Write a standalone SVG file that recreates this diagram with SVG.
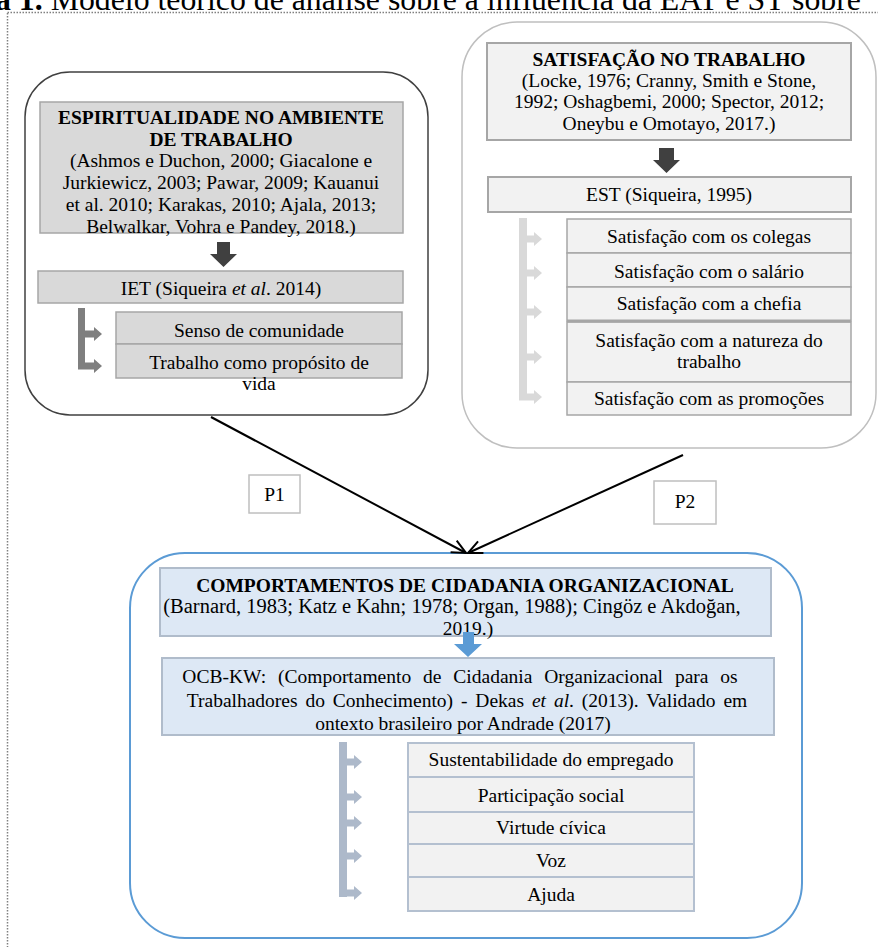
<svg xmlns="http://www.w3.org/2000/svg" width="878" height="947" viewBox="0 0 878 947">
<defs>
<style>
text{font-family:"Liberation Serif","Times New Roman",serif;font-size:19.5px;fill:#000;text-anchor:middle}
.b{font-weight:bold}
.it{font-style:italic}
.gbox{fill:#d9d9d9;stroke:#a6a6a6;stroke-width:1.5}
.lbox{fill:#f2f2f2;stroke:#a6a6a6;stroke-width:1.5}
.bbox{fill:#dde8f5;stroke:#b0bccb;stroke-width:2}
.sbox{fill:#f2f2f2;stroke:#b4c0d0;stroke-width:2}
.conn{stroke:#000;stroke-width:2;fill:none;marker-end:url(#open)}
</style>
<marker id="open" viewBox="0 0 16 16" refX="15" refY="8" markerWidth="16" markerHeight="16" markerUnits="userSpaceOnUse" orient="auto">
<path d="M1,1.5 L15,8 L1,14.5" fill="none" stroke="#000" stroke-width="2"/>
</marker>
</defs>
<rect width="878" height="947" fill="#fff"/>
<text x="-5" y="10" style="font-size:31.8px;text-anchor:start"><tspan class="b">a 1.</tspan> Modelo teórico de análise sobre a influência da EAT e ST sobre</text>
<rect x="7.5" y="12.5" width="900" height="1000" fill="none" stroke="#808080" stroke-width="1.5" stroke-dasharray="1.5 1.5"/>

<g id="espiritualidade">
<rect x="25" y="72" width="403" height="343" rx="45" fill="#fff" stroke="#404040" stroke-width="1.5"/>
<rect class="gbox" x="40" y="102" width="363" height="131"/>
<text x="221" y="124" class="b">ESPIRITUALIDADE NO AMBIENTE</text>
<text x="221" y="146" class="b">DE TRABALHO</text>
<text x="221" y="167">(Ashmos e Duchon, 2000; Giacalone e</text>
<text x="221" y="189">Jurkiewicz, 2003; Pawar, 2009; Kauanui</text>
<text x="221" y="211">et al. 2010; Karakas, 2010; Ajala, 2013;</text>
<text x="221" y="233">Belwalkar, Vohra e Pandey, 2018.)</text>
<path d="M217,242 H230 V254 H237 L223.5,267 L210,254 H217 Z" fill="#404040"/>
<rect class="gbox" x="38" y="271" width="365" height="32"/>
<text x="221" y="295">IET (Siqueira <tspan class="it">et al</tspan>. 2014)</text>
<rect class="gbox" x="116" y="312" width="286" height="32"/>
<text x="259" y="337">Senso de comunidade</text>
<rect class="gbox" x="116" y="344" width="286" height="34"/>
<text x="259" y="369">Trabalho como propósito de</text>
<text x="259" y="390">vida</text>
</g>

<g id="satisfacao">
<rect x="462" y="22" width="414" height="426" rx="55" fill="#fff" stroke="#bfbfbf" stroke-width="1.5"/>
<rect class="lbox" x="487" y="43" width="364" height="97" style="stroke-width:2"/>
<text x="669" y="66" class="b">SATISFAÇÃO NO TRABALHO</text>
<text x="669" y="87">(Locke, 1976; Cranny, Smith e Stone,</text>
<text x="669" y="108">1992; Oshagbemi, 2000; Spector, 2012;</text>
<text x="669" y="130">Oneybu e Omotayo, 2017.)</text>
<path d="M659,148 H674 V160 H680 L666.5,173 L653,160 H659 Z" fill="#404040"/>
<rect class="lbox" x="488" y="177" width="363" height="35" style="stroke-width:2"/>
<text x="669" y="201">EST (Siqueira, 1995)</text>
<rect class="lbox" x="567" y="219" width="284" height="34"/>
<text x="709" y="243">Satisfação com os colegas</text>
<rect class="lbox" x="567" y="253" width="284" height="34"/>
<text x="709" y="278">Satisfação com o salário</text>
<rect class="lbox" x="567" y="287" width="284" height="34"/>
<text x="709" y="310">Satisfação com a chefia</text>
<rect class="lbox" x="567" y="322" width="284" height="60"/>
<line x1="567" y1="321" x2="851" y2="321" stroke="#a6a6a6" stroke-width="3"/>
<text x="709" y="347">Satisfação com a natureza do</text>
<text x="709" y="368">trabalho</text>
<rect class="lbox" x="567" y="382" width="284" height="33"/>
<text x="709" y="405">Satisfação com as promoções</text>
</g>

<g id="p1">
<rect x="249" y="475" width="51" height="38" fill="#fff" stroke="#bfbfbf" stroke-width="1.5"/>
<text x="274.5" y="501">P1</text>
</g>
<g id="p2">
<rect x="654" y="481" width="62" height="43" fill="#fff" stroke="#bfbfbf" stroke-width="1.5"/>
<text x="685" y="508">P2</text>
</g>

<g id="cidadania">
<rect x="130" y="553" width="672" height="385" rx="55" fill="#fff" stroke="#5b9bd5" stroke-width="2"/>
<rect class="bbox" x="160" y="568" width="611" height="68"/>
<text x="465" y="592" class="b">COMPORTAMENTOS DE CIDADANIA ORGANIZACIONAL</text>
<text x="452" y="613" style="font-size:20.5px">(Barnard, 1983; Katz e Kahn; 1978; Organ, 1988); Cingöz e Akdoğan,</text>
<text x="468" y="635">2019.)</text>
<path d="M463,632 H474 V644 H482 L468,657 L454,644 H463 Z" fill="#5b9bd5"/>
<rect class="bbox" x="162" y="658" width="612" height="77"/>
<text x="460" y="683" word-spacing="7">OCB-KW: (Comportamento de Cidadania Organizacional para os</text>
<text x="467" y="707" word-spacing="3">Trabalhadores do Conhecimento) - Dekas <tspan class="it">et al</tspan>. (2013). Validado em</text>
<text x="463" y="730">ontexto brasileiro por Andrade (2017)</text>
<rect class="sbox" x="408" y="743" width="286" height="34"/>
<text x="551" y="766">Sustentabilidade do empregado</text>
<rect class="sbox" x="408" y="777" width="286" height="35"/>
<text x="551" y="802">Participação social</text>
<rect class="sbox" x="408" y="812" width="286" height="32"/>
<text x="551" y="834">Virtude cívica</text>
<rect class="sbox" x="408" y="844" width="286" height="33"/>
<text x="551" y="867">Voz</text>
<rect class="sbox" x="408" y="877" width="286" height="34"/>
<text x="551" y="901">Ajuda</text>
</g>

<g id="connectors">
<line class="conn" x1="211" y1="417" x2="466" y2="553"/>
<line class="conn" x1="683" y1="455" x2="468" y2="553"/>
<g fill="#7f7f7f">
<rect x="78" y="308" width="7" height="61.5"/>
<path d="M85,330.5 H94 V327 L102,334 L94,341 V337.5 H85 Z"/>
<path d="M85,362.5 H94 V359 L102,366 L94,373 V369.5 H85 Z"/>
</g>
<g fill="#d9d9d9">
<rect x="519" y="218" width="8" height="182.5"/>
<path d="M527,235.5 H534 V232 L542,239 L534,246 V242.5 H527 Z"/>
<path d="M527,269.5 H534 V266 L542,273 L534,280 V276.5 H527 Z"/>
<path d="M527,308.5 H534 V305 L542,312 L534,319 V315.5 H527 Z"/>
<path d="M527,353.5 H534 V350 L542,357 L534,364 V360.5 H527 Z"/>
<path d="M527,393.5 H534 V390 L542,397 L534,404 V400.5 H527 Z"/>
</g>
<g fill="#adb9ca">
<rect x="339" y="742" width="8" height="155"/>
<path d="M347,758.5 H354 V755 L362,762 L354,769 V765.5 H347 Z"/>
<path d="M347,793.5 H354 V790 L362,797 L354,804 V800.5 H347 Z"/>
<path d="M347,819.5 H354 V816 L362,823 L354,830 V826.5 H347 Z"/>
<path d="M347,852.5 H354 V849 L362,856 L354,863 V859.5 H347 Z"/>
<path d="M347,889.5 H354 V886 L362,893 L354,900 V896.5 H347 Z"/>
</g>
</g>
</svg>
